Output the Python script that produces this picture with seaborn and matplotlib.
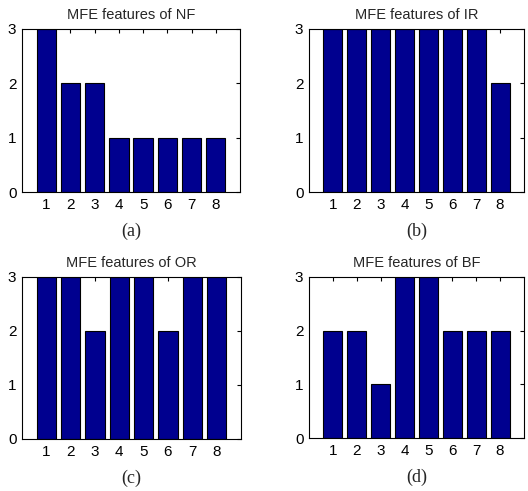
import numpy as np
import pandas as pd
import matplotlib
matplotlib.use("Agg")
import matplotlib.pyplot as plt
import seaborn as sns

# Donnees
features = [1, 2, 3, 4, 5, 6, 7, 8]
nf_values = [3, 2, 2, 1, 1, 1, 1, 1]
ir_values = [3, 3, 3, 3, 3, 3, 3, 2]
or_values = [3, 3, 2, 3, 3, 2, 3, 3]
bf_values = [2, 2, 1, 3, 3, 2, 2, 2]
titles = ["MFE features of NF", "MFE features of IR",
          "MFE features of OR", "MFE features of BF"]
labels = ["(a)", "(b)", "(c)", "(d)"]

sns.set_style("white")
plt.rcParams["font.family"] = ["Liberation Sans", "DejaVu Sans"]

fig = plt.figure(figsize=(5.28, 4.91), dpi=100)

# positions des axes en pixels (gauche, haut, droite, bas)
boxes = [(22, 29, 240, 192), (309, 29, 524, 192),
         (22, 277, 241, 439), (309, 277, 524, 438)]
W, H = 528, 491
series = [nf_values, ir_values, or_values, bf_values]

for vals, title, lab, (l, t, r, b) in zip(series, titles, labels, boxes):
    ax = fig.add_axes([l / W, 1 - b / H, (r - l) / W, (b - t) / H])
    df = pd.DataFrame({"feature": features, "value": vals})
    sns.barplot(data=df, x="feature", y="value", native_scale=True,
                color="#00008F", saturation=1, width=0.8,
                edgecolor="black", linewidth=0.8, ax=ax)
    ax.set_xlim(0, 9)
    ax.set_ylim(0, 3)
    ax.set_xticks(features)
    ax.set_yticks([0, 1, 2, 3])
    ax.set_xlabel("")
    ax.set_ylabel("")
    ax.tick_params(direction="in", top=True, right=True, length=3,
                   labelsize=11, colors="black", pad=4)
    for s in ax.spines.values():
        s.set_color("black")
        s.set_linewidth(0.8)
    ax.set_title(title, fontsize=10.5, pad=7)
    ax.text(0.5, -0.19, lab, transform=ax.transAxes, ha="center", va="top",
            fontsize=13, family="Liberation Serif")

plt.savefig("out.png", dpi=100)
